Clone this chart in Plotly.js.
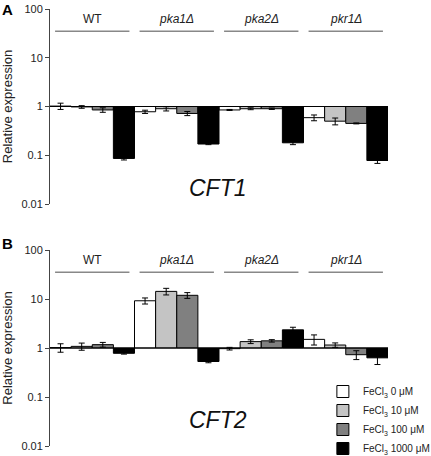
<!DOCTYPE html>
<html><head><meta charset="utf-8">
<script src="https://cdn.plot.ly/plotly-3.0.1.min.js"></script>
<style>body{margin:0;background:#fff}#c{width:431px;height:456px}</style>
</head><body><div id="c"></div>
<script>
const groups = ['WT', 'pka1Δ', 'pka2Δ', 'pkr1Δ'];
const concLabels = ['FeCl<sub>3</sub> 0 μM', 'FeCl<sub>3</sub> 10 μM', 'FeCl<sub>3</sub> 100 μM', 'FeCl<sub>3</sub> 1000 μM'];
const colors = ['#ffffff', '#c4c4c4', '#808080', '#000000'];
// CFT1 values [concentration][group]
const cft1 = [
  [1.02, 0.78, 0.85, 0.59],
  [0.98, 0.90, 0.90, 0.50],
  [0.85, 0.72, 0.90, 0.45],
  [0.086, 0.17, 0.18, 0.078]
];
const cft1Err = [
  [0.15, 0.06, 0.02, 0.08],
  [0.06, 0.09, 0.04, 0.08],
  [0.09, 0.07, 0.03, 0.01],
  [0.006, 0.005, 0.015, 0.01]
];
const cft2 = [
  [1.02, 9.2, 0.97, 1.5],
  [1.08, 14.3, 1.35, 1.15],
  [1.17, 11.9, 1.40, 0.73],
  [0.78, 0.53, 2.35, 0.63]
];
const cft2Err = [
  [0.2, 1.3, 0.06, 0.35],
  [0.18, 2.2, 0.12, 0.12],
  [0.13, 1.6, 0.08, 0.15],
  [0.03, 0.03, 0.3, 0.17]
];
const tickVals = [0.01, 0.1, 1, 10, 100];
const tickText = ['0.01', '0.1', '1', '10', '100'];

const xIdx = groups.map((g, i) => i);
const traces = [];
function addPanel(vals, errs, xa, ya, showLeg) {
  vals.forEach((v, c) => {
    traces.push({
      type: 'bar', x: xIdx, base: v.map(() => 1), y: v.map(a => a - 1),
      xaxis: xa, yaxis: ya, name: concLabels[c], showlegend: showLeg,
      marker: {color: colors[c], line: {color: '#000', width: 1}},
      error_y: {type: 'data', array: errs[c], color: '#000', thickness: 1, width: 3},
      hoverinfo: 'skip'
    });
  });
}
addPanel(cft1, cft1Err, 'x', 'y', false);
addPanel(cft2, cft2Err, 'x2', 'y2', true);

const font = {family: 'Liberation Sans, Arial, sans-serif', color: '#000'};
const yax = (dom) => ({
  type: 'log', range: [-2, 2], domain: dom, tickvals: tickVals, ticktext: tickText,
  ticks: 'outside', ticklen: 4, tickcolor: '#444', showline: true, linecolor: '#444', linewidth: 1,
  showgrid: false, zeroline: false, tickfont: {size: 11, color: '#222'},
  title: {text: 'Relative expression', font: {size: 13, color: '#222'}, standoff: 9}
});
const xax = (anchor) => ({range: [-0.5, 3.5], visible: false, anchor: anchor});

const shapes = [];
const annotations = [];
[['x', 'y'], ['x2', 'y2']].forEach(([xa, ya]) => {
  shapes.push({type: 'line', xref: xa + ' domain', yref: ya, x0: 0, x1: 1, y0: 1, y1: 1, line: {color: '#000', width: 1}});
  groups.forEach((g, i) => {
    shapes.push({type: 'line', xref: xa, yref: ya, x0: i - 0.44, x1: i + 0.44, y0: 35, y1: 35, line: {color: '#888', width: 1.5}});
    annotations.push({xref: xa, yref: ya, x: i, y: Math.log10(35), yshift: 12, showarrow: false,
      text: i === 0 ? g : '<i>' + g + '</i>', font: {size: 12, color: '#222'}});
  });
});
annotations.push({xref: 'paper', yref: 'paper', x: -50/338, y: 1 - 9/456, xanchor: 'left', yanchor: 'middle', showarrow: false, text: '<b>A</b>', font: {size: 15}});
annotations.push({xref: 'paper', yref: 'paper', x: -50/338, y: 1 - 243/456, xanchor: 'left', yanchor: 'middle', showarrow: false, text: '<b>B</b>', font: {size: 15}});
annotations.push({xref: 'x', yref: 'y', x: 1.49, y: Math.log10(0.0213), showarrow: false, text: '<i>CFT1</i>', font: {size: 23, color: '#111'}});
annotations.push({xref: 'x2', yref: 'y2', x: 1.49, y: Math.log10(0.0344), showarrow: false, text: '<i>CFT2</i>', font: {size: 23, color: '#111'}});

const layout = {
  width: 431, height: 456, margin: {l: 50, r: 43, t: 0, b: 0},
  paper_bgcolor: '#fff', plot_bgcolor: '#fff', font: font,
  barmode: 'group', bargap: 0, bargroupgap: 0,
  xaxis: xax('y'), yaxis: yax([1 - 204/456, 1 - 9/456]),
  xaxis2: xax('y2'), yaxis2: yax([1 - 446/456, 1 - 250/456]),
  showlegend: true,
  legend: {x: 0.76, y: 0, xanchor: 'left', yanchor: 'bottom', font: {size: 10, color: '#222'}, bgcolor: 'rgba(0,0,0,0)', tracegroupgap: 0},
  shapes: shapes, annotations: annotations
};
Plotly.newPlot('c', traces, layout, {displayModeBar: false, staticPlot: true}).then(gd => {
  // fine-tune: nudge legend without affecting plot margins
  const lg = gd.querySelector('.legend');
  if (lg) {
    const t = lg.getAttribute('transform');
    const m = /translate\(([-\d.]+),\s*([-\d.]+)\)/.exec(t);
    if (m) lg.setAttribute('transform', 'translate(' + (parseFloat(m[1]) + 16) + ',' + (parseFloat(m[2]) + 7) + ')');
  }
});
</script></body></html>
